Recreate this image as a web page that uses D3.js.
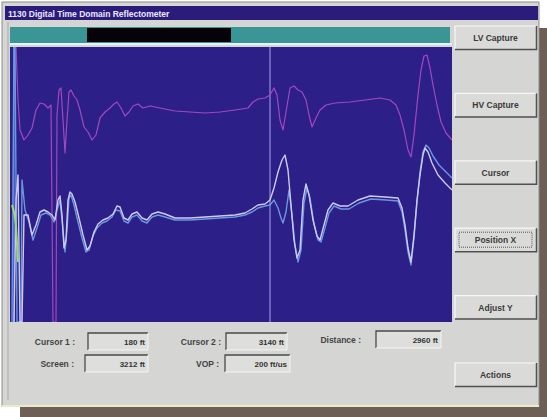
<!DOCTYPE html>
<html>
<head>
<meta charset="utf-8">
<script src="https://cdn.jsdelivr.net/npm/d3@7"></script>
<style>
  html, body { margin: 0; padding: 0; background: #ffffff; }
  svg { display: block; }
  text { font-family: "Liberation Sans", Arial, sans-serif; }
</style>
</head>
<body>
<script>
// ---- Trace data: [sample index, amplitude counts] ----
const lvTrace = [
  [2,275],[4,275],[6,222],[8,192],[12,182],[16,187],[20,194],[24,212],[28,219],[32,218],
  [36,214],[39,217],[41,0],[44,0],[45,207],[47,232],[49,234],[51,202],[53,169],[55,202],
  [57,230],[59,232],[62,226],[65,222],[68,212],[72,195],[76,190],[80,182],[84,187],[88,204],
  [93,210],[98,214],[102,218],[105,220],[109,214],[113,206],[117,210],[121,216],[126,218],[131,214],
  [138,216],[148,214],[163,211],[178,210],[193,209],[208,210],[223,212],[236,214],[241,220],[246,223],
  [253,224],[258,227],[262,234],[265,227],[268,202],[271,192],[274,210],[278,234],[282,236],[286,232],
  [290,230],[294,222],[297,207],[300,195],[304,204],[308,212],[314,217],[323,219],[338,220],[353,222],
  [368,224],[378,222],[384,217],[388,207],[392,192],[396,172],[399,165],[402,187],[406,227],[409,252],
  [412,266],[415,267],[418,254],[421,237],[425,217],[429,200],[434,189],[440,182]
];

const hvTrace = [
  [2,0],[4,122],[6,147],[8,0],[10,0],[12,107],[16,107],[20,87],[24,97],[28,110],
  [32,112],[36,110],[40,107],[43,102],[46,122],[48,126],[50,107],[52,74],[54,82],[56,122],
  [58,130],[60,128],[63,120],[67,104],[71,87],[75,72],[78,76],[82,90],[86,98],[91,102],
  [96,104],[101,108],[105,116],[108,115],[112,104],[116,102],[120,108],[125,110],[130,104],[135,102],
  [140,108],[146,110],[153,108],[163,104],[178,104],[193,105],[208,106],[223,107],[233,109],[240,113],
  [246,117],[253,118],[258,122],[262,134],[266,150],[270,162],[273,167],[276,152],[279,117],[282,82],
  [285,64],[288,72],[291,122],[294,138],[297,127],[301,102],[305,86],[308,82],[312,97],[316,112],
  [321,119],[328,116],[336,116],[346,122],[358,126],[373,125],[386,124],[390,114],[393,97],[396,74],
  [399,60],[402,87],[405,122],[408,147],[411,167],[413,174],[416,170],[420,159],[426,147],[433,139],
  [440,132]
];

const refTrace = [
  [0,0],[2,275],[3,275],[5,0],[9,0],[10,142],[13,112],[17,100],[21,82],[25,94],
  [29,107],[34,109],[38,107],[42,100],[45,112],[48,122],[51,92],[53,70],[55,92],[57,124],
  [59,127],[62,117],[66,100],[70,84],[74,70],[77,72],[81,86],[85,94],[90,99],[95,101],
  [100,105],[104,112],[108,111],[112,101],[116,99],[120,105],[125,107],[130,101],[135,99],[140,105],
  [146,107],[153,105],[163,102],[178,102],[193,103],[208,104],[223,105],[233,107],[240,110],[246,114],
  [253,116],[258,117],[262,122],[266,114],[269,104],[271,99],[274,110],[277,132],[280,107],[283,77],
  [286,60],[289,72],[292,119],[295,134],[298,124],[302,98],[306,82],[309,80],[313,94],[317,109],
  [322,116],[329,113],[337,113],[347,119],[359,123],[374,122],[386,121],[390,110],[393,92],[396,70],
  [399,57],[402,84],[405,120],[408,150],[411,170],[414,177],[417,174],[421,166],[427,157],[434,150],
  [440,144]
];

const launchTrace = [[0,117],[2,110],[4,97],[6,60]];

const cursorSamples = [2, 258];

const buttonLabels = ["LV Capture", "HV Capture", "Cursor", "Position X", "Adjust Y", "Actions"];

const fieldLabels = ["Cursor 1 :", "Cursor 2 :", "Distance :", "Screen :", "VOP :"];
const fieldValues = ["180 ft", "3140 ft", "2960 ft", "3212 ft", "200 ft/us"];

const titleText = "1130 Digital Time Domain Reflectometer";

// ---- Layout ----
const W = 547, H = 417;
const plot = { x0: 10, x1: 452, y0: 47, y1: 322 };

const svg = d3.select("body").append("svg").attr("width", W).attr("height", H);

// drop shadow behind the window
svg.append("rect").attr("x", 20).attr("y", 28).attr("width", 527).attr("height", 389).attr("fill", "#6d5f55");

// window frame
svg.append("rect").attr("x", 2).attr("y", 2).attr("width", 537).attr("height", 404)
  .attr("fill", "#d5d5d3").attr("stroke", "#8c8c8c").attr("stroke-width", 1);
svg.append("line").attr("x1", 2).attr("x2", 539).attr("y1", 406).attr("y2", 406)
  .attr("stroke", "#e8ebc8").attr("stroke-width", 2);
svg.append("line").attr("x1", 8).attr("x2", 8).attr("y1", 22).attr("y2", 400)
  .attr("stroke", "#a9a9a9").attr("stroke-width", 1);

// title bar
svg.append("rect").attr("x", 5).attr("y", 6).attr("width", 533).attr("height", 14).attr("fill", "#2b1c7c");
svg.append("text").attr("x", 8).attr("y", 17).attr("fill", "#ece8ff")
  .attr("font-size", 8.5).attr("font-weight", "bold").text(titleText);

// scroll/overview bar
svg.append("rect").attr("x", 10).attr("y", 27).attr("width", 440).attr("height", 16).attr("fill", "#3a9596");
svg.append("rect").attr("x", 87).attr("y", 28).attr("width", 144).attr("height", 14).attr("fill", "#050308");
svg.append("rect").attr("x", 10).attr("y", 43).attr("width", 442).attr("height", 2).attr("fill", "#e6f2f6");

// plot background
svg.append("rect").attr("x", plot.x0).attr("y", plot.y0)
  .attr("width", plot.x1 - plot.x0).attr("height", plot.y1 - plot.y0).attr("fill", "#2c1f88");

svg.append("clipPath").attr("id", "plotClip").append("rect")
  .attr("x", plot.x0).attr("y", plot.y0)
  .attr("width", plot.x1 - plot.x0).attr("height", plot.y1 - plot.y0);

const x = d3.scaleLinear().domain([0, 440]).range([12, 452]);
const y = d3.scaleLinear().domain([0, 275]).range([plot.y1, plot.y0]);
const line = d3.line().x(d => x(d[0])).y(d => y(d[1]));

const g = svg.append("g").attr("clip-path", "url(#plotClip)");

// cursors
g.selectAll("line.cursor").data(cursorSamples).join("line")
  .attr("class", "cursor")
  .attr("x1", d => x(d)).attr("x2", d => x(d))
  .attr("y1", plot.y0).attr("y2", plot.y1)
  .attr("stroke", (d, i) => i === 0 ? "#4a5ccc" : "#9f97e0")
  .attr("stroke-width", (d, i) => i === 0 ? 2 : 1.1);

// traces
const traces = [
  { data: lvTrace, color: "#a248bd", w: 1.2 },
  { data: refTrace, color: "#6a98e0", w: 1.4 },
  { data: hvTrace, color: "#cfcbf6", w: 1.4 },
  { data: launchTrace, color: "#9ed96a", w: 2 }
];
g.selectAll("path.trace").data(traces).join("path")
  .attr("class", "trace")
  .attr("d", d => line(d.data))
  .attr("fill", "none")
  .attr("stroke", d => d.color)
  .attr("stroke-width", d => d.w)
  .attr("stroke-linejoin", "round");

// side buttons
const btnY = d3.scalePoint().domain(buttonLabels).range([26, 363]);
const btn = svg.selectAll("g.btn").data(buttonLabels).join("g")
  .attr("class", "btn")
  .attr("transform", d => `translate(455,${btnY(d)})`);
btn.append("rect").attr("width", 81).attr("height", 23).attr("fill", "#dadad8");
btn.append("path").attr("d", "M0,23 V0 H81").attr("fill", "none").attr("stroke", "#f8f8f8").attr("stroke-width", 1.2);
btn.append("path").attr("d", "M0,23.5 H81.5 V0").attr("fill", "none").attr("stroke", "#505050").attr("stroke-width", 1.5);
btn.filter(d => d === "Position X").append("rect")
  .attr("x", 4).attr("y", 4).attr("width", 73).attr("height", 15)
  .attr("fill", "none").attr("stroke", "#555").attr("stroke-dasharray", "1,1");
btn.append("text").attr("x", 40.5).attr("y", 15).attr("text-anchor", "middle")
  .attr("font-size", 8.5).attr("font-weight", "bold").attr("fill", "#3a3a3a").text(d => d);

// readout fields
const fields = [
  { lx: 75, bx: 88, by: 333, bw: 60 },
  { lx: 221, bx: 226, by: 333, bw: 61 },
  { lx: 361, bx: 376, by: 331, bw: 65 },
  { lx: 74, bx: 85, by: 355, bw: 63 },
  { lx: 219, bx: 225, by: 355, bw: 65 }
];
const fg = svg.selectAll("g.field").data(fields).join("g").attr("class", "field");
fg.append("text").attr("x", d => d.lx).attr("y", d => d.by + 12).attr("text-anchor", "end")
  .attr("font-size", 8.5).attr("font-weight", "bold").attr("fill", "#444")
  .text((d, i) => fieldLabels[i]);
fg.append("rect").attr("x", d => d.bx).attr("y", d => d.by).attr("width", d => d.bw).attr("height", 17)
  .attr("fill", "#dededc");
fg.append("path").attr("d", d => `M${d.bx},${d.by + 17} V${d.by} H${d.bx + d.bw}`)
  .attr("fill", "none").attr("stroke", "#4a4a4a").attr("stroke-width", 1.3);
fg.append("path").attr("d", d => `M${d.bx},${d.by + 17} H${d.bx + d.bw} V${d.by}`)
  .attr("fill", "none").attr("stroke", "#f4f4f4").attr("stroke-width", 1);
fg.append("text").attr("x", d => d.bx + d.bw - 3).attr("y", d => d.by + 12).attr("text-anchor", "end")
  .attr("font-size", 8).attr("font-weight", "bold").attr("fill", "#333")
  .text((d, i) => fieldValues[i]);
</script>
</body>
</html>
